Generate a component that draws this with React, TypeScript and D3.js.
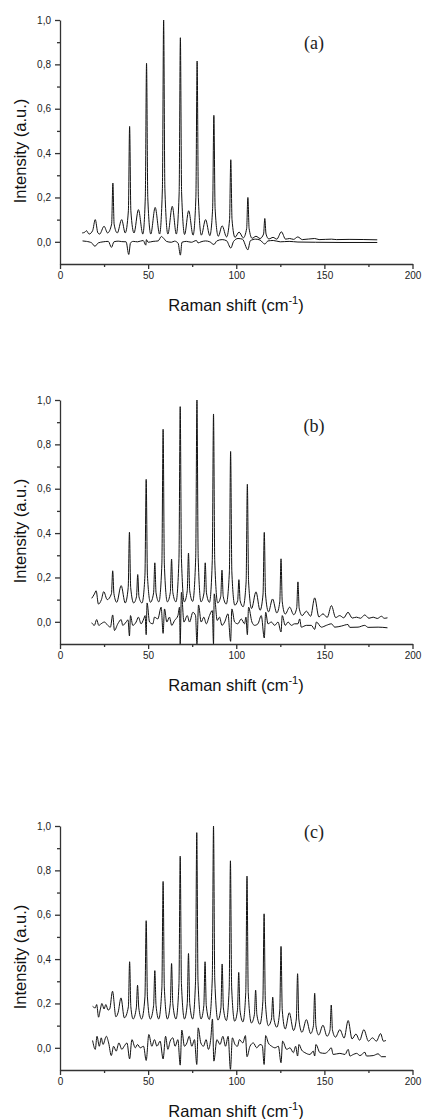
import React, { useRef, useEffect } from 'react';
import * as d3 from 'd3';

// Raman spectra (upper trace) and difference traces (lower trace)
const spectrumA: [number, number][] = [
  [12.6, 0.04], [14, 0.043], [15, 0.05], [16.5, 0.035], [18.5, 0.05], [20, 0.1], [21.5, 0.04], [22.5, 0.035], [25, 0.07], [27, 0.04],
  [29.3, 0.08], [30, 0.265], [30.7, 0.08], [32.5, 0.04], [35, 0.1], [37, 0.04],
  [38.8, 0.14], [39.5, 0.52], [40.2, 0.14], [42, 0.04], [44.5, 0.145], [47, 0.035],
  [48.4, 0.2], [49.1, 0.805], [49.8, 0.2], [51.5, 0.035], [54, 0.155], [56.5, 0.035],
  [58.1, 0.24], [58.8, 1.0], [59.5, 0.24], [61.2, 0.035], [63.7, 0.16], [66, 0.035],
  [67.6, 0.22], [68.3, 0.92], [69, 0.22], [70.7, 0.033], [73, 0.14], [75.5, 0.03],
  [77.1, 0.2], [77.8, 0.815], [78.5, 0.2], [80.2, 0.03], [82.6, 0.1], [85, 0.028],
  [86.6, 0.15], [87.3, 0.57], [88, 0.15], [89.8, 0.025], [92, 0.072], [94.5, 0.022],
  [96.2, 0.1], [96.9, 0.37], [97.6, 0.1], [99.3, 0.02], [101.6, 0.044], [104, 0.018],
  [105.9, 0.06], [106.6, 0.2], [107.3, 0.06], [109, 0.016], [111.2, 0.025], [113.5, 0.015],
  [115.5, 0.035], [116.2, 0.105], [116.9, 0.035], [118.5, 0.013], [120.9, 0.02], [123, 0.012],
  [125.6, 0.045], [128, 0.012], [130.3, 0.015], [132.5, 0.011], [134.9, 0.022], [137.5, 0.01],
  [144.5, 0.015], [147, 0.01], [154, 0.012], [157, 0.01], [164, 0.011], [180, 0.009],
];

const diffA: [number, number][] = [
  [12.8, 0.004], [15, 0.002], [18, -0.005], [19.8, -0.02], [21.7, -0.005], [24.5, 0], [27.4, 0.002], [29.2, -0.025],
  [30.6, 0], [33, 0.003], [35, 0.001], [37.5, 0], [39, -0.057], [40, -0.005], [41.5, 0.002], [44, 0], [47.2, 0.006],
  [48.7, -0.015], [49, 0.01], [50, -0.002], [52.8, 0.002], [55.7, 0.004], [57.5, 0.024], [58.9, 0.015], [60.4, 0.002],
  [63.2, -0.002], [65, 0.003], [67, -0.006], [68.3, -0.06], [69.2, -0.002], [71.7, 0.002], [74.5, -0.002], [77.4, 0.006],
  [78.3, -0.005], [80, 0], [82.5, 0.004], [85, 0], [87.3, -0.012], [89, 0.004], [92, 0.01], [94.5, 0.005], [96.9, -0.028],
  [98.5, 0.002], [101, 0.015], [103.5, 0.012], [106.6, -0.036], [108, 0.005], [111, 0.012], [113.5, 0.008], [116.2, -0.01],
  [118, 0.004], [121, 0.006], [125, 0], [130, 0.002], [135, -0.001], [145, -0.002], [160, -0.003], [180, -0.003],
];

const spectrumB: [number, number][] = [
  [18, 0.106], [19.5, 0.125], [20.5, 0.14], [21.8, 0.08], [23.5, 0.1], [24.8, 0.136], [26.8, 0.1],
  [29.2, 0.127], [29.9, 0.23], [30.6, 0.127], [32.2, 0.088], [34.7, 0.163], [37, 0.085],
  [38.7, 0.155], [39.4, 0.404], [40.1, 0.155], [41.8, 0.085], [43.4, 0.113], [44.1, 0.213], [44.8, 0.113], [46.5, 0.085],
  [48.2, 0.21], [48.9, 0.642], [49.6, 0.21], [51.3, 0.088], [53.1, 0.13], [53.8, 0.266], [54.5, 0.13], [56.1, 0.09],
  [57.8, 0.26], [58.5, 0.868], [59.2, 0.26], [60.9, 0.09], [62.6, 0.133], [63.3, 0.283], [64, 0.133], [65.8, 0.09],
  [67.5, 0.285], [68.2, 0.97], [68.9, 0.285], [70.5, 0.09], [72.2, 0.14], [72.9, 0.31], [73.6, 0.14], [75.3, 0.092],
  [77, 0.29], [77.7, 1.0], [78.4, 0.29], [80, 0.09], [81.7, 0.13], [82.4, 0.266], [83.1, 0.13], [84.8, 0.088],
  [86.4, 0.275], [87.1, 0.937], [87.8, 0.275], [89.5, 0.085], [91.2, 0.115], [91.9, 0.233], [92.6, 0.115], [94.3, 0.08],
  [96.1, 0.225], [96.8, 0.768], [97.5, 0.225], [99.2, 0.075], [100.8, 0.095], [101.5, 0.19], [102.2, 0.095], [103.9, 0.068],
  [105.6, 0.18], [106.3, 0.62], [107, 0.18], [108.7, 0.06], [111.2, 0.135], [113.5, 0.052],
  [115.2, 0.125], [115.9, 0.403], [116.6, 0.125], [118.3, 0.045], [120.6, 0.103], [123, 0.04],
  [124.7, 0.09], [125.4, 0.284], [126.1, 0.09], [127.8, 0.035], [130.3, 0.066], [132.6, 0.032],
  [134.3, 0.062], [135, 0.18], [135.7, 0.062], [137.4, 0.028], [139.8, 0.048], [142.2, 0.025],
  [144.5, 0.108], [146.9, 0.022], [149.2, 0.036], [151.6, 0.02], [154, 0.073], [156.4, 0.019], [158.7, 0.028], [161, 0.018],
  [163.4, 0.043], [165.8, 0.017], [168.2, 0.021], [170.5, 0.016], [172.9, 0.031], [175.3, 0.016], [177.7, 0.021], [180, 0.015],
  [182.4, 0.025], [184, 0.016], [185.8, 0.018],
];

const diffB: [number, number][] = [
  [18, -0.004], [19.5, -0.016], [20.8, 0.01], [22, -0.016], [23.3, -0.009], [25.2, -0.001], [27.1, -0.016], [28.6, -0.024],
  [29.9, 0.031], [30.9, -0.039], [32.8, -0.009], [34.7, 0.01], [35.6, -0.016], [37.5, -0.001], [38.6, 0.009], [39.4, -0.064],
  [40, 0.028], [41.3, -0.016], [43.2, -0.001], [44.5, 0.021], [46, -0.009], [47.5, 0.013], [48.3, 0.028], [48.9, -0.058],
  [49.4, 0.085], [50.8, -0.001], [52.7, -0.009], [53.6, 0.021], [55.5, 0.013], [57.4, 0.066], [58.5, -0.052], [59.3, 0.058],
  [60.6, -0.001], [62.1, 0.021], [63.4, -0.016], [65, 0.006], [66.9, 0.028], [67.8, 0.066], [68.2, -0.1], [68.9, 0.133],
  [70.3, -0.001], [72.2, 0.028], [73.5, -0.001], [75.4, 0.043], [76.9, 0.028], [77.7, -0.1], [78.6, 0.076], [80.1, -0.001],
  [81.6, 0.021], [83, -0.009], [84.8, 0.028], [86.4, 0.051], [87.1, -0.1], [87.5, 0.126], [89.2, 0.006], [90.5, 0.021],
  [91.9, -0.016], [93.4, -0.001], [95.3, 0.036], [96.8, -0.088], [97.5, 0.058], [99.1, -0.001], [100.9, -0.009], [102.8, 0.013],
  [104.7, -0.009], [105.5, 0.021], [106.3, -0.058], [107, 0.066], [108.9, -0.001], [110.4, -0.016], [112.3, -0.009], [114.2, 0.028],
  [115.9, -0.073], [116.7, 0.043], [118, -0.009], [119.9, -0.001], [121.8, -0.016], [123.7, -0.001], [125.4, -0.046], [126.1, 0.028],
  [127.8, -0.016], [129.4, -0.001], [131.3, -0.016], [133.1, -0.009], [135, -0.009], [136, 0.013], [136.9, -0.024], [139.8, -0.016],
  [142.6, -0.016], [144.5, -0.034], [145.5, -0.001], [148.3, -0.024], [151.1, -0.016], [154, -0.009], [155.9, -0.024], [159.7, -0.019],
  [163.4, -0.012], [164.4, -0.025], [169.1, -0.024], [172.9, -0.016], [174.8, -0.025], [180.5, -0.024], [185.8, -0.027],
];

const spectrumC: [number, number][] = [
  [18.5, 0.187], [20, 0.18], [20.8, 0.195], [21.9, 0.138], [22.8, 0.17], [23.8, 0.2], [25, 0.175], [26, 0.195], [27.3, 0.17],
  [28.2, 0.175], [29.8, 0.255], [31.7, 0.14], [33, 0.16], [34.6, 0.225], [36.5, 0.135],
  [38.8, 0.185], [39.5, 0.388], [40.2, 0.185], [41.5, 0.13], [43.3, 0.18], [44, 0.282], [44.7, 0.18], [46.3, 0.13],
  [48.2, 0.23], [48.9, 0.573], [49.6, 0.23], [51.2, 0.13], [53.1, 0.19], [53.8, 0.348], [54.5, 0.19], [56, 0.13],
  [57.8, 0.27], [58.5, 0.75], [59.2, 0.27], [60.9, 0.13], [62.6, 0.2], [63.3, 0.38], [64, 0.2], [65.8, 0.13],
  [67.5, 0.29], [68.2, 0.864], [68.9, 0.29], [70.6, 0.13], [72.2, 0.2], [72.9, 0.425], [73.6, 0.2], [75.3, 0.13],
  [76.9, 0.3], [77.6, 0.97], [78.3, 0.3], [80, 0.13], [81.6, 0.19], [82.3, 0.388], [83, 0.19], [84.7, 0.128],
  [86.4, 0.31], [87.1, 1.0], [87.8, 0.31], [89.6, 0.125], [91.3, 0.18], [92, 0.378], [92.7, 0.18], [94.4, 0.123],
  [96, 0.27], [96.7, 0.843], [97.4, 0.27], [99.1, 0.12], [100.7, 0.17], [101.4, 0.34], [102.1, 0.17], [103.8, 0.117],
  [105.4, 0.25], [106.1, 0.774], [106.8, 0.25], [108.6, 0.112], [110.3, 0.15], [111, 0.26], [111.7, 0.15], [113.4, 0.106],
  [115.1, 0.21], [115.8, 0.604], [116.5, 0.21], [118.2, 0.1], [120, 0.13], [120.7, 0.228], [121.4, 0.13], [123, 0.093],
  [124.7, 0.17], [125.4, 0.457], [126.1, 0.17], [127.8, 0.085], [130.1, 0.158], [132.5, 0.078],
  [134.1, 0.13], [134.8, 0.334], [135.5, 0.13], [137.3, 0.07], [139.8, 0.127], [142.2, 0.064],
  [143.8, 0.1], [144.5, 0.246], [145.2, 0.1], [146.8, 0.058], [149.2, 0.102], [151.5, 0.052],
  [153.2, 0.08], [153.9, 0.193], [154.6, 0.08], [156.3, 0.048], [158.8, 0.082], [161.2, 0.044], [163.5, 0.123], [165.7, 0.04],
  [167.9, 0.062], [170, 0.034], [172.4, 0.082], [175, 0.03], [177.3, 0.045], [179.5, 0.03], [181.9, 0.064], [183.5, 0.03],
  [184.9, 0.033],
];

const diffC: [number, number][] = [
  [18.5, 0.033], [20, -0.007], [21, 0.052], [22.3, 0.007], [23.4, 0.045], [24.4, 0.015], [26.3, 0.052], [27.6, 0.022],
  [29.1, -0.035], [30.4, 0.007], [31.9, -0.015], [33.4, 0.022], [35.1, -0.007], [36.4, 0.007], [38, 0.022], [39.5, -0.05],
  [40.8, 0.037], [42.7, 0], [44, 0.015], [45.5, 0], [47.4, 0.007], [48.9, -0.057], [50.4, 0.06], [52.1, 0.007], [53.6, 0.037],
  [55, 0.007], [56.8, 0.03], [58.5, -0.05], [59.9, 0.052], [61.2, -0.007], [62.5, 0.03], [64, 0.045], [65.3, 0.007],
  [66.9, 0.037], [68.2, -0.078], [69.1, 0.08], [70.6, 0.007], [72, 0.022], [73.3, 0.052], [74.8, 0.007], [76.3, 0.037],
  [77.6, -0.075], [78.4, 0.09], [79.9, 0.022], [81.4, 0.007], [82.9, 0.037], [84.2, -0.007], [85.6, 0.045], [86.5, 0.13],
  [87.3, -0.06], [89, 0.037], [90.8, 0.015], [92.4, 0.052], [93.9, 0.007], [95.4, 0.052], [96.7, -0.097], [97.8, 0.045],
  [99.3, 0.015], [100.7, 0.007], [101.8, 0.037], [103.7, 0.022], [105.2, 0.055], [106.1, -0.04], [107.8, 0.007], [109.7, 0.022],
  [111.6, 0], [113.5, 0.015], [114.8, 0.01], [115.8, -0.075], [116.7, 0.055], [118.2, 0.022], [120.1, 0.007], [122, 0],
  [123.9, 0.007], [125.4, -0.067], [126.3, 0.03], [128.6, -0.007], [130.5, 0], [132.4, -0.022], [133.7, 0.007], [134.8, -0.037],
  [135.6, 0.015], [137.1, -0.01], [139, -0.022], [141.8, -0.03], [143.7, -0.015], [144.5, -0.037], [145.2, 0.015], [147.5, -0.022],
  [150.3, -0.025], [152.2, -0.015], [153.9, 0], [155, -0.03], [158.8, -0.025], [161.7, -0.03], [163.5, -0.007], [164.5, -0.037],
  [166.4, -0.03], [168.3, -0.025], [170.2, -0.035], [173, -0.02], [173.9, -0.037], [177.7, -0.035], [180.5, -0.027], [182.4, -0.04],
  [184.9, -0.04],
];

const yTicks = [0, 0.2, 0.4, 0.6, 0.8, 1.0];
const yMinorTicks = [0.1, 0.3, 0.5, 0.7, 0.9];
const xTicks = [0, 50, 100, 150, 200];
const xMinorTicks = [25, 75, 125, 175];
const panelNames = ['(a)', '(b)', '(c)'];

// layout: top pixel of each panel (where 1,0 sits) and where its letter goes
const panels = [
  { name: panelNames[0], top: 20, labelDy: 23, spectrum: spectrumA, diff: diffA },
  { name: panelNames[1], top: 400, labelDy: 26, spectrum: spectrumB, diff: diffB },
  { name: panelNames[2], top: 826, labelDy: 6, spectrum: spectrumC, diff: diffC },
];

const sans = "'Liberation Sans', Arial, sans-serif";
const serif = "'Liberation Serif', 'Times New Roman', serif";

const App = () => {
  const svgRef = useRef<SVGSVGElement>(null);

  useEffect(() => {
    const svg = d3.select(svgRef.current);
    svg.selectAll('*').remove();

    const x = d3.scaleLinear().domain([0, 200]).range([60, 412.5]);
    const fmt = (d: number) => d3.format('.1f')(d).replace('.', ',');

    panels.forEach((p, i) => {
      const top = p.top;
      const y = d3.scaleLinear().domain([-0.1, 1.0]).range([top + 244, top]);
      const g = svg.append('g');

      // clip so the deep dips stop at the x axis
      g.append('clipPath').attr('id', 'clip' + i)
        .append('rect')
        .attr('x', x(0)).attr('y', y(1.0))
        .attr('width', x(200) - x(0)).attr('height', y(-0.1) - y(1.0));

      const line = d3.line<[number, number]>()
        .x(d => x(d[0]))
        .y(d => y(d[1]))
        .curve(d3.curveMonotoneX);

      g.append('g').attr('clip-path', `url(#clip${i})`)
        .selectAll('path')
        .data([p.spectrum, p.diff])
        .join('path')
        .attr('d', d => line(d))
        .attr('fill', 'none')
        .attr('stroke', '#111')
        .attr('stroke-width', 1)
        .attr('stroke-linejoin', 'round');

      // y axis with minor ticks
      const yAx = g.append('g').attr('transform', `translate(${x(0)},0)`)
        .call(d3.axisLeft(y).tickValues(yTicks).tickFormat(fmt as any).tickSize(5).tickSizeOuter(0).tickPadding(4));
      const yMin = g.append('g').attr('transform', `translate(${x(0)},0)`)
        .call(d3.axisLeft(y).tickValues(yMinorTicks).tickFormat(() => '').tickSize(3).tickSizeOuter(0));
      yMin.select('.domain').remove();

      // x axis with minor ticks
      const xAx = g.append('g').attr('transform', `translate(0,${y(-0.1)})`)
        .call(d3.axisBottom(x).tickValues(xTicks).tickFormat(d3.format('d') as any).tickSize(5).tickSizeOuter(0).tickPadding(3));
      const xMin = g.append('g').attr('transform', `translate(0,${y(-0.1)})`)
        .call(d3.axisBottom(x).tickValues(xMinorTicks).tickFormat(() => '').tickSize(3).tickSizeOuter(0));
      xMin.select('.domain').remove();

      [yAx, yMin, xAx, xMin].forEach(a => {
        a.attr('font-family', sans).attr('font-size', 10);
        a.selectAll('path, line').attr('stroke', '#333').attr('stroke-width', 1.3);
        a.selectAll('text').attr('fill', '#222');
      });

      // axis titles
      g.append('text')
        .attr('transform', `translate(26,${top + 131}) rotate(-90)`)
        .attr('text-anchor', 'middle')
        .attr('font-family', sans)
        .attr('font-size', 16.5)
        .attr('fill', '#111')
        .text('Intensity (a.u.)');

      const xt = g.append('text')
        .attr('x', 236)
        .attr('y', top + 291)
        .attr('text-anchor', 'middle')
        .attr('font-family', sans)
        .attr('font-size', 16.5)
        .attr('fill', '#111');
      xt.append('tspan').text('Raman shift (cm');
      xt.append('tspan').attr('font-size', 11).attr('dy', -7).text('-1');
      xt.append('tspan').attr('dy', 7).text(')');

      // panel letter
      g.append('text')
        .attr('x', 314)
        .attr('y', top + p.labelDy + 6)
        .attr('text-anchor', 'middle')
        .attr('font-family', serif)
        .attr('font-size', 18)
        .attr('fill', '#222')
        .text(p.name);
    });
  }, []);

  return (
    <svg
      ref={svgRef}
      width={422}
      height={1119}
      style={{ position: 'absolute', left: 0, top: 0, background: '#fff' }}
    />
  );
};

export default App;
